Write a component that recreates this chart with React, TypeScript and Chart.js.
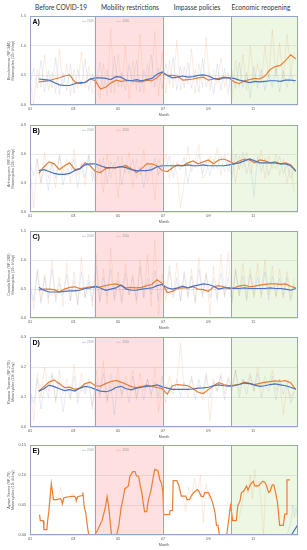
import React, { useEffect, useRef } from "react";
import { Chart, registerables } from "chart.js";
Chart.register(...registerables);

// ---------- shared axis / period data ----------
const monthTickDays = [0, 59, 120, 181, 243, 304];
const monthTickLabels = ["01", "03", "05", "07", "09", "11"];
const periodLabels = ["Before COVID-19", "Mobility restrictions", "Impasse policies", "Economic reopening"];
const restrictionStartDay = 88;
const impasseStartDay = 181;
const reopeningStartDay = 274;
const yearEndDay = 365;
const maStartDay = 12;
const maStepDays = 7;
const dailyStepDays = 5;

// ---------- Panel A: Bandeirantes ----------
const aMa2019 = [0.44,0.43,0.42,0.38,0.34,0.33,0.33,0.36,0.38,0.38,0.44,0.46,0.46,0.45,0.43,0.48,0.47,0.42,0.41,0.43,0.41,0.43,0.45,0.52,0.56,0.50,0.46,0.47,0.49,0.47,0.48,0.50,0.51,0.49,0.45,0.43,0.46,0.46,0.45,0.42,0.40,0.38,0.40,0.39,0.40,0.41,0.41,0.40,0.42,0.42,0.41];
const aMa2020 = [0.39,0.40,0.41,0.44,0.46,0.49,0.51,0.39,0.36,0.38,0.44,0.41,0.27,0.30,0.37,0.42,0.40,0.41,0.41,0.40,0.39,0.42,0.41,0.46,0.55,0.50,0.50,0.49,0.42,0.43,0.44,0.46,0.47,0.42,0.44,0.45,0.47,0.46,0.39,0.36,0.41,0.43,0.45,0.44,0.49,0.60,0.65,0.67,0.75,0.85,0.78];
const aDaily2019 = [0.35,0.62,0.28,0.75,0.22,0.58,0.30,0.80,0.18,0.55,0.25,0.70,0.20,0.60,0.32,0.78,0.25,0.52,0.35,0.72,0.28,0.60,0.20,0.82,0.30,0.55,0.25,0.68,0.35,0.75,0.22,0.58,0.40,0.85,0.30,0.62,0.28,0.70,0.35,0.80,0.25,0.65,0.30,0.72,0.28,0.60,0.22,0.78,0.30,0.55,0.18,0.70,0.25,0.62,0.20,0.58,0.28,0.72,0.30,0.55,0.12,0.65,0.28,0.60,0.25,0.52,0.30,0.62,0.22,0.58,0.30,0.55,0.35];
const aDaily2020 = [0.45,0.02,0.60,0.30,0.85,0.25,0.55,0.20,0.95,0.30,0.70,0.15,0.60,0.28,0.90,0.30,0.65,0.20,0.50,0.10,0.70,0.15,1.30,0.20,0.85,0.30,1.00,0.10,0.75,0.25,1.20,0.20,0.70,0.35,1.25,0.15,0.90,0.20,0.75,0.30,1.10,0.25,0.65,0.35,0.95,0.20,0.70,0.30,1.15,0.25,0.60,0.35,0.80,0.30,0.55,0.10,0.75,0.30,0.85,0.25,1.00,0.35,0.70,0.40,1.00,0.45,1.28,0.50,1.05,0.40,1.20,0.55,0.90];

// ---------- Panel B: Anhanguera ----------
const bMa2019 = [0.43,0.44,0.42,0.40,0.39,0.39,0.40,0.43,0.45,0.49,0.50,0.50,0.48,0.46,0.46,0.46,0.47,0.46,0.44,0.43,0.43,0.43,0.44,0.47,0.48,0.48,0.48,0.48,0.48,0.49,0.48,0.48,0.49,0.48,0.48,0.48,0.48,0.49,0.50,0.51,0.53,0.55,0.53,0.51,0.51,0.51,0.51,0.50,0.50,0.48,0.43];
const bMa2020 = [0.40,0.47,0.52,0.50,0.44,0.48,0.51,0.44,0.45,0.51,0.48,0.42,0.41,0.45,0.46,0.46,0.47,0.48,0.45,0.41,0.45,0.50,0.50,0.48,0.43,0.42,0.46,0.49,0.48,0.51,0.53,0.50,0.52,0.54,0.50,0.54,0.55,0.53,0.50,0.53,0.55,0.54,0.51,0.54,0.53,0.51,0.52,0.50,0.51,0.49,0.42];
const bDaily2019 = [0.50,0.38,0.55,0.30,0.48,0.22,0.52,0.35,0.58,0.28,0.45,0.40,0.55,0.25,0.50,0.36,0.60,0.32,0.48,0.42,0.56,0.30,0.52,0.44,0.58,0.28,0.50,0.40,0.55,0.35,0.47,0.25,0.52,0.42,0.56,0.38,0.50,0.45,0.58,0.36,0.52,0.44,0.57,0.30,0.50,0.46,0.60,0.40,0.52,0.38,0.55,0.45,0.58,0.42,0.54,0.35,0.60,0.44,0.62,0.40,0.55,0.16,0.58,0.42,0.56,0.38,0.52,0.45,0.58,0.40,0.50,0.35,0.45];
const bDaily2020 = [0.45,0.04,0.55,0.30,0.62,0.35,0.50,0.25,0.60,0.40,0.55,0.30,0.65,0.38,0.50,0.28,0.58,0.42,0.30,0.55,0.20,0.60,0.35,0.52,0.15,0.58,0.40,0.62,0.25,0.55,0.38,0.65,0.30,0.50,0.12,0.55,0.45,0.60,0.35,0.52,0.40,0.04,0.30,0.68,0.42,0.55,0.70,0.35,0.40,0.58,0.45,0.66,0.38,0.60,0.42,0.64,0.30,0.58,0.45,0.62,0.40,0.56,0.48,0.64,0.35,0.58,0.45,0.60,0.38,0.55,0.30,0.50,0.20];

// ---------- Panel C: Castelo Branco ----------
const cMa2019 = [0.53,0.48,0.45,0.45,0.45,0.46,0.47,0.47,0.48,0.51,0.52,0.55,0.52,0.48,0.50,0.52,0.57,0.50,0.48,0.48,0.50,0.51,0.52,0.56,0.58,0.52,0.50,0.52,0.55,0.52,0.55,0.57,0.59,0.58,0.55,0.50,0.52,0.52,0.51,0.51,0.52,0.51,0.51,0.51,0.51,0.52,0.51,0.51,0.50,0.48,0.51];
const cMa2020 = [0.48,0.50,0.50,0.49,0.45,0.50,0.53,0.54,0.51,0.52,0.54,0.53,0.54,0.56,0.58,0.59,0.56,0.52,0.53,0.52,0.53,0.56,0.58,0.66,0.60,0.44,0.46,0.51,0.52,0.52,0.54,0.50,0.49,0.46,0.54,0.56,0.54,0.51,0.52,0.55,0.57,0.54,0.55,0.57,0.58,0.59,0.59,0.58,0.59,0.55,0.52];
const cDaily2019 = [0.55,0.30,0.80,0.25,0.70,0.35,0.85,0.28,0.60,0.40,0.75,0.30,0.65,0.22,0.80,0.35,0.62,0.30,0.90,0.28,0.70,0.38,0.85,0.30,0.65,0.25,0.78,0.40,0.70,0.32,0.88,0.35,0.68,0.40,0.82,0.30,0.75,0.42,0.90,0.35,0.70,0.30,0.80,0.38,0.72,0.28,0.85,0.40,0.75,0.35,0.68,0.30,0.78,0.36,0.70,0.25,0.82,0.38,0.72,0.30,0.76,0.35,0.70,0.40,0.80,0.32,0.72,0.38,0.68,0.35,0.70,0.30,0.60];
const cDaily2020 = [0.60,0.15,0.85,0.30,0.75,0.25,1.00,0.35,0.70,0.20,0.95,0.30,0.80,0.25,1.05,0.35,0.75,0.20,1.10,0.30,0.85,0.25,1.20,0.35,0.80,0.30,0.95,0.40,0.75,0.25,1.00,0.35,1.10,0.20,1.35,0.05,0.65,0.30,0.80,0.40,0.95,0.30,0.75,0.35,0.85,0.25,1.05,0.35,0.80,0.05,0.90,0.35,1.10,0.40,1.15,0.30,0.85,0.40,0.95,0.35,0.85,0.40,0.95,0.35,1.00,0.40,0.90,0.35,0.85,0.40,0.80,0.35,0.70];

// ---------- Panel D: Raposo Tavares ----------
const dMa2019 = [0.120,0.128,0.140,0.135,0.128,0.122,0.125,0.120,0.130,0.136,0.133,0.126,0.120,0.118,0.122,0.132,0.136,0.128,0.124,0.130,0.133,0.136,0.137,0.141,0.134,0.130,0.126,0.126,0.126,0.126,0.127,0.130,0.131,0.133,0.138,0.141,0.138,0.137,0.138,0.142,0.147,0.145,0.140,0.136,0.138,0.142,0.144,0.141,0.138,0.133,0.126];
const dMa2020 = [0.120,0.135,0.150,0.157,0.145,0.132,0.133,0.126,0.130,0.145,0.150,0.138,0.137,0.145,0.152,0.156,0.150,0.143,0.135,0.132,0.135,0.140,0.136,0.132,0.128,0.110,0.138,0.142,0.140,0.138,0.128,0.116,0.112,0.125,0.138,0.148,0.142,0.138,0.140,0.143,0.150,0.146,0.142,0.146,0.150,0.152,0.154,0.153,0.155,0.148,0.125];
const dDaily2019 = [0.12,0.08,0.16,0.06,0.14,0.10,0.18,0.09,0.15,0.05,0.13,0.10,0.17,0.08,0.14,0.11,0.16,0.07,0.15,0.10,0.18,0.09,0.14,0.04,0.16,0.11,0.15,0.08,0.17,0.10,0.14,0.09,0.16,0.11,0.15,0.10,0.17,0.08,0.14,0.11,0.16,0.10,0.15,0.12,0.17,0.09,0.16,0.11,0.18,0.10,0.15,0.12,0.17,0.09,0.16,0.12,0.19,0.10,0.16,0.11,0.17,0.12,0.18,0.10,0.15,0.12,0.17,0.09,0.16,0.11,0.15,0.08,0.12];
const dDaily2020 = [0.14,0.02,0.18,0.10,0.20,0.12,0.17,0.08,0.19,0.11,0.16,0.09,0.21,0.10,0.18,0.12,0.15,0.06,0.19,0.11,0.22,0.08,0.18,0.12,0.20,0.10,0.17,0.13,0.19,0.09,0.18,0.12,0.16,0.10,0.20,0.05,0.14,0.11,0.17,0.12,0.15,0.28,0.13,0.10,0.16,0.12,0.14,0.09,0.17,0.02,0.16,0.12,0.18,0.11,0.17,0.13,0.19,0.12,0.16,0.14,0.18,0.12,0.20,0.13,0.17,0.14,0.19,0.12,0.16,0.04,0.14,0.10,0.12];

// ---------- Panel E: Ayrton Senna ----------
const eMa2019Days = [12, 356, 365];
const eMa2019 = [0, 0, 0.018];
const eMa2020Days = [13,14,18,19,23,24,26,29,32,37,41,43,44,46,52,60,62,63,65,71,72,74,76,78,80,88,92,95,98,101,103,105,107,109,111,118,121,124,127,129,134,136,140,143,145,148,150,152,154,156,159,161,165,168,170,174,177,179,181,182,190,191,194,195,200,203,206,212,214,217,220,223,228,230,233,236,238,243,246,249,252,254,256,258,268,273,275,276,281,283,286,288,291,295,297,300,304,306,311,314,317,320,322,325,327,330,332,335,337,340,345,347,349,350,354];
const eMa2020 = [0.034,0.024,0.024,0.009,0.009,0.024,0.043,0.086,0.059,0.059,0.061,0.058,0.052,0.062,0.064,0.065,0.063,0.057,0.064,0.066,0.071,0.046,0.037,0.016,0,0,0.008,0.016,0.024,0.038,0.049,0.064,0.049,0.024,0,0,0.016,0.045,0.062,0.077,0.082,0.098,0.106,0.106,0.099,0.098,0.083,0.073,0.055,0.039,0.039,0.057,0.076,0.098,0.110,0.108,0.092,0.087,0.072,0.034,0.034,0.041,0.041,0.091,0.091,0.082,0.065,0.065,0.059,0.059,0.066,0.071,0.076,0.073,0.065,0.064,0.071,0.071,0.063,0.053,0.037,0.016,0.016,0,0,0.049,0.034,0.024,0.024,0.049,0.057,0.071,0.073,0.082,0.075,0.084,0.090,0.082,0.082,0.086,0.090,0.088,0.083,0.071,0.073,0.084,0.084,0.068,0.055,0.016,0.016,0.035,0.035,0.092,0.092];
const eDaily2019Days = [350, 355, 358, 360, 362, 365];
const eDaily2019 = [0, 0.02, 0.05, 0.03, 0.045, 0.03];
const eDaily2020Days = [25,28,30,34,38,42,45,48,52,58,63,68,72,73,200,204,208,212,216,220,224,228,232,236,240,244,247,248,285,290,294,297,300,303,306,309,312,315,318,321,325,330];
const eDaily2020 = [0.04,0.07,0.06,0.065,0.06,0.08,0.055,0.065,0.06,0.07,0.062,0.068,0.072,null,0.09,0.07,0.065,0.04,0.08,0.06,0.095,0.07,0.10,0.02,0.085,0.06,0.07,null,0.03,0.06,0.08,0.07,0.10,0.06,0.11,0.08,0.09,0.05,0.00,0.08,0.085,0.07];

// ---------- panel text ----------
const panelLetters = ["A)", "B)", "C)", "D)", "E)"];
const roadNames = ["Bandeirantes (SP-348)", "Anhanguera (SP-330)", "Castelo Branco (SP-280)", "Raposo Tavares (SP-270)", "Ayrton Senna (SP-70)"];
const yUnitLabel = "Motorcycles (10³ #/day)";
const yTicksA = [0, 0.5, 1.0, 1.5];
const yTicksB = [0, 0.3, 0.6, 0.9];
const yTicksC = [0, 0.5, 1.0, 1.5];
const yTicksD = [0, 0.1, 0.2, 0.3];
const yTicksE = [0, 0.05, 0.1, 0.15];

const BLUE = "#4472C4";
const ORANGE = "#ED7D31";
const BLUE_FAINT = "rgba(68,114,196,0.22)";
const ORANGE_FAINT = "rgba(237,125,49,0.24)";
const FRAME = "#93a5cb";
const FONT = "'Liberation Sans', Arial, sans-serif";

const evenSeries = (vals: (number | null)[], start: number, step: number) =>
  vals.map((v, i) => ({ x: start + i * step, y: v }));
const pairSeries = (days: number[], vals: (number | null)[]) =>
  days.map((d, i) => ({ x: d, y: vals[i] }));

type PanelCfg = {
  idx: number;
  yTicks: number[];
  dec: number;
  top: number;
  h: number;
  daily2019: any[];
  daily2020: any[];
  ma2019: any[];
  ma2020: any[];
};

const panels: PanelCfg[] = [
  { idx: 0, yTicks: yTicksA, dec: 1, top: 14, h: 91,
    daily2019: evenSeries(aDaily2019, 0, dailyStepDays), daily2020: evenSeries(aDaily2020, 0, dailyStepDays),
    ma2019: evenSeries(aMa2019, maStartDay, maStepDays), ma2020: evenSeries(aMa2020, maStartDay, maStepDays) },
  { idx: 1, yTicks: yTicksB, dec: 1, top: 123, h: 89,
    daily2019: evenSeries(bDaily2019, 0, dailyStepDays), daily2020: evenSeries(bDaily2020, 0, dailyStepDays),
    ma2019: evenSeries(bMa2019, maStartDay, maStepDays), ma2020: evenSeries(bMa2020, maStartDay, maStepDays) },
  { idx: 2, yTicks: yTicksC, dec: 1, top: 229, h: 89,
    daily2019: evenSeries(cDaily2019, 0, dailyStepDays), daily2020: evenSeries(cDaily2020, 0, dailyStepDays),
    ma2019: evenSeries(cMa2019, maStartDay, maStepDays), ma2020: evenSeries(cMa2020, maStartDay, maStepDays) },
  { idx: 3, yTicks: yTicksD, dec: 1, top: 335, h: 92,
    daily2019: evenSeries(dDaily2019, 0, dailyStepDays), daily2020: evenSeries(dDaily2020, 0, dailyStepDays),
    ma2019: evenSeries(dMa2019, maStartDay, maStepDays), ma2020: evenSeries(dMa2020, maStartDay, maStepDays) },
  { idx: 4, yTicks: yTicksE, dec: 2, top: 443, h: 92,
    daily2019: pairSeries(eDaily2019Days, eDaily2019), daily2020: pairSeries(eDaily2020Days, eDaily2020),
    ma2019: pairSeries(eMa2019Days, eMa2019), ma2020: pairSeries(eMa2020Days, eMa2020) },
];

const PAD_TOP = 4;
const XAXIS_H = 14;

function Panel({ cfg }: { cfg: PanelCfg }) {
  const ref = useRef<HTMLCanvasElement>(null);
  useEffect(() => {
    const decor = {
      id: "decor",
      beforeDatasetsDraw(chart: any) {
        const { ctx, chartArea: ca, scales } = chart;
        const px = (d: number) => scales.x.getPixelForValue(d);
        ctx.save();
        ctx.fillStyle = "rgba(255,0,0,0.12)";
        ctx.fillRect(px(restrictionStartDay), ca.top, px(impasseStartDay) - px(restrictionStartDay), ca.bottom - ca.top);
        ctx.fillStyle = "rgba(146,208,80,0.16)";
        ctx.fillRect(px(reopeningStartDay), ca.top, px(yearEndDay) - px(reopeningStartDay), ca.bottom - ca.top);
        ctx.restore();
      },
      afterDatasetsDraw(chart: any) {
        const { ctx, chartArea: ca, scales } = chart;
        const px = (d: number) => scales.x.getPixelForValue(d);
        ctx.save();
        ctx.strokeStyle = FRAME;
        ctx.lineWidth = 1;
        [restrictionStartDay, impasseStartDay, reopeningStartDay].forEach((d) => {
          const x = Math.round(px(d)) + 0.5;
          ctx.beginPath();
          ctx.moveTo(x, ca.top);
          ctx.lineTo(x, ca.bottom);
          ctx.stroke();
        });
        ctx.strokeRect(Math.round(ca.left) + 0.5, Math.round(ca.top) + 0.5, Math.round(ca.right - ca.left) - 1, Math.round(ca.bottom - ca.top) - 1);
        // panel letter
        ctx.fillStyle = "#000";
        ctx.font = `bold 7px ${FONT}`;
        ctx.textBaseline = "middle";
        ctx.textAlign = "left";
        ctx.fillText(panelLetters[cfg.idx], ca.left + 2.5, ca.top + 5.5);
        // legend
        const ly = ca.top + 5;
        ctx.lineWidth = 0.8;
        ctx.strokeStyle = "rgba(68,114,196,0.4)";
        ctx.beginPath(); ctx.moveTo(82, ly); ctx.lineTo(86, ly); ctx.stroke();
        ctx.strokeStyle = "rgba(237,125,49,0.4)";
        ctx.beginPath(); ctx.moveTo(116, ly); ctx.lineTo(121, ly); ctx.stroke();
        ctx.fillStyle = "#999";
        ctx.font = `3px ${FONT}`;
        ctx.fillText("2019", 87, ly);
        ctx.fillText("2020", 122.5, ly);
        ctx.restore();
      },
      afterDraw(chart: any) {
        const { ctx, chartArea: ca } = chart;
        ctx.save();
        ctx.fillStyle = "#595959";
        ctx.font = `3.8px ${FONT}`;
        ctx.textAlign = "center";
        ctx.textBaseline = "middle";
        ctx.fillText("Month", (ca.left + ca.right) / 2, ca.bottom + 9.5);
        const cy = (ca.top + ca.bottom) / 2;
        ctx.translate(11, cy);
        ctx.rotate(-Math.PI / 2);
        ctx.fillText(roadNames[cfg.idx], 0, -2.2);
        ctx.fillText(yUnitLabel, 0, 2.2);
        ctx.restore();
      },
    };
    const chart = new Chart(ref.current as HTMLCanvasElement, {
      type: "line",
      data: {
        datasets: [
          { data: cfg.daily2019, borderColor: BLUE_FAINT, borderWidth: 0.6, pointRadius: 0, spanGaps: false },
          { data: cfg.daily2020, borderColor: ORANGE_FAINT, borderWidth: 0.6, pointRadius: 0, spanGaps: false },
          { data: cfg.ma2019, borderColor: BLUE, borderWidth: 1.2, pointRadius: 0 },
          { data: cfg.ma2020, borderColor: ORANGE, borderWidth: 1.2, pointRadius: 0 },
        ],
      } as any,
      options: {
        animation: false,
        responsive: false,
        devicePixelRatio: 1,
        layout: { padding: { left: 0, right: 9, top: PAD_TOP, bottom: 0 } },
        plugins: { legend: { display: false }, tooltip: { enabled: false } },
        elements: { line: { tension: 0 } },
        scales: {
          x: {
            type: "linear",
            min: 0,
            max: yearEndDay,
            afterBuildTicks: (s: any) => { s.ticks = monthTickDays.map((v) => ({ value: v })); },
            afterFit: (s: any) => { s.height = XAXIS_H; },
            ticks: {
              autoSkip: false,
              maxRotation: 0,
              padding: 1.5,
              color: "#595959",
              font: { size: 3.8, family: FONT },
              callback: (v: any) => { const i = monthTickDays.indexOf(Number(v)); return i >= 0 ? monthTickLabels[i] : ""; },
            },
            grid: { display: false, drawTicks: false },
            border: { display: false },
          },
          y: {
            min: 0,
            max: cfg.yTicks[cfg.yTicks.length - 1],
            afterBuildTicks: (s: any) => { s.ticks = cfg.yTicks.map((v) => ({ value: v })); },
            afterFit: (s: any) => { s.width = 30; },
            ticks: {
              padding: 4,
              color: "#595959",
              font: { size: 3.8, family: FONT },
              callback: (v: any) => Number(v).toFixed(cfg.dec),
            },
            grid: { color: "#dcdcdc", lineWidth: 0.6, drawTicks: false },
            border: { display: false },
          },
        },
      } as any,
      plugins: [decor],
    });
    return () => chart.destroy();
  }, []);
  return (
    <canvas
      ref={ref}
      width={307}
      height={PAD_TOP + cfg.h + XAXIS_H}
      style={{ position: "absolute", left: 0, top: cfg.top - PAD_TOP, width: 307, height: PAD_TOP + cfg.h + XAXIS_H }}
    />
  );
}

const headerCenters = [61, 130, 197, 261];

export default function App() {
  return (
    <div style={{ position: "fixed", left: 0, top: 0, width: 307, height: 550, background: "#fff", overflow: "hidden" }}>
      {periodLabels.map((t, i) => (
        <div
          key={t}
          style={{
            position: "absolute",
            left: headerCenters[i] - 50,
            width: 100,
            top: 2,
            textAlign: "center",
            fontFamily: "Lato, sans-serif",
            fontSize: 6.6,
            lineHeight: "10px",
            color: "#333",
            whiteSpace: "nowrap",
          }}
        >
          {t}
        </div>
      ))}
      {panels.map((p) => (
        <Panel key={p.idx} cfg={p} />
      ))}
    </div>
  );
}
